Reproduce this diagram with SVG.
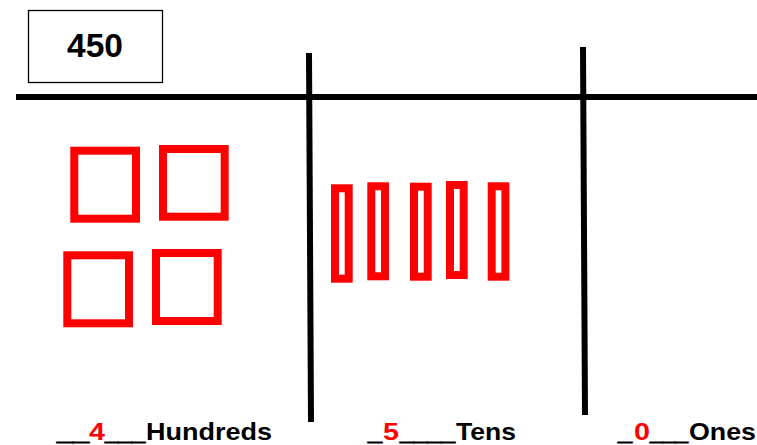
<svg xmlns="http://www.w3.org/2000/svg" width="757" height="445" viewBox="0 0 757 445">
<style>
.blk{fill:#000;font-family:"Liberation Sans",Arial,sans-serif;font-weight:bold;font-size:24px}
.us{fill:#000;stroke:#000;stroke-width:1.2;font-family:"Liberation Sans",Arial,sans-serif;font-weight:bold;font-size:24px}
.red{fill:#FF0000;font-family:"Liberation Sans",Arial,sans-serif;font-weight:bold;font-size:24px}
.sq{fill:none;stroke:#FF0000;stroke-width:8}
.bar{fill:none;stroke:#FF0000;stroke-width:8}
.ln{stroke:#000;stroke-width:6;fill:none}
</style>
<rect width="757" height="445" fill="#fff"/>
<g id="title">
<rect x="28.5" y="10.5" width="134" height="72" fill="#fff" stroke="#000" stroke-width="1.3"/>
<text x="95" y="57" text-anchor="middle" style="font-family:'Liberation Sans',Arial,sans-serif;font-weight:bold;font-size:33px" textLength="56" lengthAdjust="spacingAndGlyphs">450</text>
</g>
<g id="lines">
<line class="ln" x1="16" y1="97" x2="757" y2="97"/>
<line class="ln" x1="309" y1="53" x2="311" y2="422"/>
<line class="ln" x1="583" y1="47" x2="585" y2="415"/>
</g>
<g id="hundreds">
<rect class="sq" x="74.3" y="150.7" width="61.7" height="68"/>
<rect class="sq" x="163" y="149" width="61.7" height="67.7"/>
<rect class="sq" x="67.3" y="255.3" width="61.7" height="68"/>
<rect class="sq" x="156" y="253" width="61.7" height="68"/>
</g>
<g id="tens">
<rect class="bar" x="335" y="188.3" width="13.7" height="90.4"/>
<rect class="bar" x="371.3" y="186.3" width="13.7" height="90"/>
<rect class="bar" x="414" y="186.7" width="13.7" height="90"/>
<rect class="bar" x="450" y="185" width="13.7" height="90"/>
<rect class="bar" x="491.7" y="186.3" width="13.7" height="90.4"/>
</g>
<g id="label-hundreds">
<text class="us" x="57" y="440" textLength="32" lengthAdjust="spacingAndGlyphs">__</text>
<text class="red" x="89" y="440" textLength="16" lengthAdjust="spacingAndGlyphs">4</text>
<text class="us" x="105" y="440" textLength="40" lengthAdjust="spacingAndGlyphs">___</text>
<text class="blk" x="146" y="440" textLength="126" lengthAdjust="spacingAndGlyphs">Hundreds</text>
</g>
<g id="label-tens">
<text class="us" x="368" y="440" textLength="14" lengthAdjust="spacingAndGlyphs">_</text>
<text class="red" x="383" y="440" textLength="16" lengthAdjust="spacingAndGlyphs">5</text>
<text class="us" x="400" y="440" textLength="55" lengthAdjust="spacingAndGlyphs">____</text>
<text class="blk" x="456" y="440" textLength="60" lengthAdjust="spacingAndGlyphs">Tens</text>
</g>
<g id="label-ones">
<text class="us" x="618" y="440" textLength="14" lengthAdjust="spacingAndGlyphs">_</text>
<text class="red" x="634" y="440" textLength="16" lengthAdjust="spacingAndGlyphs">0</text>
<text class="us" x="650" y="440" textLength="38" lengthAdjust="spacingAndGlyphs">___</text>
<text class="blk" x="689" y="440" textLength="67" lengthAdjust="spacingAndGlyphs">Ones</text>
</g>
</svg>
